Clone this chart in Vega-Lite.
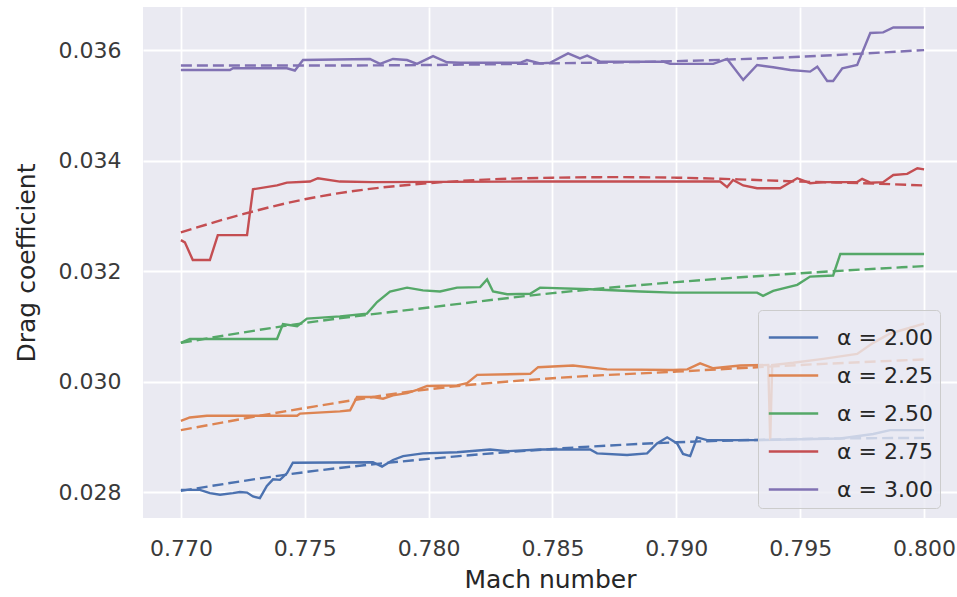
{
  "$schema": "https://vega.github.io/schema/vega-lite/v6.json",
  "width": 814,
  "height": 511,
  "autosize": {"type": "none"},
  "padding": {"left": 143, "top": 7, "right": 0, "bottom": 79},
  "background": "white",
  "config": {
    "view": {"fill": "#EAEAF2", "stroke": null},
    "font": "DejaVu Sans",
    "axis": {
      "domain": false, "ticks": false, "grid": true, "gridColor": "white", "gridWidth": 1.8,
      "labelFont": "DejaVu Sans", "labelFontSize": 22, "labelColor": "#3a3a3a",
      "titleFont": "DejaVu Sans", "titleFontSize": 25, "titleColor": "#262626", "titleFontWeight": "normal"
    }
  },
  "data": {"values": [
    {"alpha":"α = 2.00","kind":"sim","mach":0.77000,"cd":0.02804},
    {"alpha":"α = 2.00","kind":"sim","mach":0.77077,"cd":0.02804},
    {"alpha":"α = 2.00","kind":"sim","mach":0.77117,"cd":0.02798},
    {"alpha":"α = 2.00","kind":"sim","mach":0.77158,"cd":0.02795},
    {"alpha":"α = 2.00","kind":"sim","mach":0.77210,"cd":0.02798},
    {"alpha":"α = 2.00","kind":"sim","mach":0.77238,"cd":0.02800},
    {"alpha":"α = 2.00","kind":"sim","mach":0.77267,"cd":0.02799},
    {"alpha":"α = 2.00","kind":"sim","mach":0.77291,"cd":0.02792},
    {"alpha":"α = 2.00","kind":"sim","mach":0.77319,"cd":0.02789},
    {"alpha":"α = 2.00","kind":"sim","mach":0.77347,"cd":0.02811},
    {"alpha":"α = 2.00","kind":"sim","mach":0.77372,"cd":0.02823},
    {"alpha":"α = 2.00","kind":"sim","mach":0.77400,"cd":0.02822},
    {"alpha":"α = 2.00","kind":"sim","mach":0.77428,"cd":0.02834},
    {"alpha":"α = 2.00","kind":"sim","mach":0.77452,"cd":0.02853},
    {"alpha":"α = 2.00","kind":"sim","mach":0.77775,"cd":0.02854},
    {"alpha":"α = 2.00","kind":"sim","mach":0.77812,"cd":0.02846},
    {"alpha":"α = 2.00","kind":"sim","mach":0.77856,"cd":0.02858},
    {"alpha":"α = 2.00","kind":"sim","mach":0.77897,"cd":0.02865},
    {"alpha":"α = 2.00","kind":"sim","mach":0.77977,"cd":0.02870},
    {"alpha":"α = 2.00","kind":"sim","mach":0.78115,"cd":0.02872},
    {"alpha":"α = 2.00","kind":"sim","mach":0.78248,"cd":0.02877},
    {"alpha":"α = 2.00","kind":"sim","mach":0.78317,"cd":0.02874},
    {"alpha":"α = 2.00","kind":"sim","mach":0.78450,"cd":0.02877},
    {"alpha":"α = 2.00","kind":"sim","mach":0.78652,"cd":0.02877},
    {"alpha":"α = 2.00","kind":"sim","mach":0.78680,"cd":0.02870},
    {"alpha":"α = 2.00","kind":"sim","mach":0.78801,"cd":0.02867},
    {"alpha":"α = 2.00","kind":"sim","mach":0.78882,"cd":0.02870},
    {"alpha":"α = 2.00","kind":"sim","mach":0.78922,"cd":0.02888},
    {"alpha":"α = 2.00","kind":"sim","mach":0.78963,"cd":0.02899},
    {"alpha":"α = 2.00","kind":"sim","mach":0.79003,"cd":0.02888},
    {"alpha":"α = 2.00","kind":"sim","mach":0.79027,"cd":0.02869},
    {"alpha":"α = 2.00","kind":"sim","mach":0.79056,"cd":0.02865},
    {"alpha":"α = 2.00","kind":"sim","mach":0.79084,"cd":0.02899},
    {"alpha":"α = 2.00","kind":"sim","mach":0.79124,"cd":0.02894},
    {"alpha":"α = 2.00","kind":"sim","mach":0.79326,"cd":0.02894},
    {"alpha":"α = 2.00","kind":"sim","mach":0.79662,"cd":0.02897},
    {"alpha":"α = 2.00","kind":"sim","mach":0.79795,"cd":0.02905},
    {"alpha":"α = 2.00","kind":"sim","mach":0.79863,"cd":0.02912},
    {"alpha":"α = 2.00","kind":"sim","mach":0.80000,"cd":0.02912},

    {"alpha":"α = 2.25","kind":"sim","mach":0.77000,"cd":0.02929},
    {"alpha":"α = 2.25","kind":"sim","mach":0.77036,"cd":0.02935},
    {"alpha":"α = 2.25","kind":"sim","mach":0.77105,"cd":0.02938},
    {"alpha":"α = 2.25","kind":"sim","mach":0.77469,"cd":0.02938},
    {"alpha":"α = 2.25","kind":"sim","mach":0.77481,"cd":0.02942},
    {"alpha":"α = 2.25","kind":"sim","mach":0.77642,"cd":0.02946},
    {"alpha":"α = 2.25","kind":"sim","mach":0.77683,"cd":0.02948},
    {"alpha":"α = 2.25","kind":"sim","mach":0.77711,"cd":0.02972},
    {"alpha":"α = 2.25","kind":"sim","mach":0.77775,"cd":0.02972},
    {"alpha":"α = 2.25","kind":"sim","mach":0.77816,"cd":0.02969},
    {"alpha":"α = 2.25","kind":"sim","mach":0.77856,"cd":0.02975},
    {"alpha":"α = 2.25","kind":"sim","mach":0.77913,"cd":0.02979},
    {"alpha":"α = 2.25","kind":"sim","mach":0.77953,"cd":0.02985},
    {"alpha":"α = 2.25","kind":"sim","mach":0.77994,"cd":0.02992},
    {"alpha":"α = 2.25","kind":"sim","mach":0.78115,"cd":0.02993},
    {"alpha":"α = 2.25","kind":"sim","mach":0.78155,"cd":0.02997},
    {"alpha":"α = 2.25","kind":"sim","mach":0.78196,"cd":0.03012},
    {"alpha":"α = 2.25","kind":"sim","mach":0.78410,"cd":0.03014},
    {"alpha":"α = 2.25","kind":"sim","mach":0.78442,"cd":0.03026},
    {"alpha":"α = 2.25","kind":"sim","mach":0.78583,"cd":0.03029},
    {"alpha":"α = 2.25","kind":"sim","mach":0.78720,"cd":0.03022},
    {"alpha":"α = 2.25","kind":"sim","mach":0.78987,"cd":0.03021},
    {"alpha":"α = 2.25","kind":"sim","mach":0.79044,"cd":0.03022},
    {"alpha":"α = 2.25","kind":"sim","mach":0.79096,"cd":0.03033},
    {"alpha":"α = 2.25","kind":"sim","mach":0.79149,"cd":0.03024},
    {"alpha":"α = 2.25","kind":"sim","mach":0.79258,"cd":0.03029},
    {"alpha":"α = 2.25","kind":"sim","mach":0.79371,"cd":0.03030},
    {"alpha":"α = 2.25","kind":"sim","mach":0.79379,"cd":0.02894},
    {"alpha":"α = 2.25","kind":"sim","mach":0.79387,"cd":0.03030},
    {"alpha":"α = 2.25","kind":"sim","mach":0.79472,"cd":0.03034},
    {"alpha":"α = 2.25","kind":"sim","mach":0.79593,"cd":0.03041},
    {"alpha":"α = 2.25","kind":"sim","mach":0.79730,"cd":0.03050},
    {"alpha":"α = 2.25","kind":"sim","mach":0.79795,"cd":0.03070},
    {"alpha":"α = 2.25","kind":"sim","mach":0.79863,"cd":0.03087},
    {"alpha":"α = 2.25","kind":"sim","mach":0.80000,"cd":0.03105},

    {"alpha":"α = 2.50","kind":"sim","mach":0.77000,"cd":0.03070},
    {"alpha":"α = 2.50","kind":"sim","mach":0.77036,"cd":0.03077},
    {"alpha":"α = 2.50","kind":"sim","mach":0.77388,"cd":0.03077},
    {"alpha":"α = 2.50","kind":"sim","mach":0.77412,"cd":0.03104},
    {"alpha":"α = 2.50","kind":"sim","mach":0.77469,"cd":0.03100},
    {"alpha":"α = 2.50","kind":"sim","mach":0.77509,"cd":0.03114},
    {"alpha":"α = 2.50","kind":"sim","mach":0.77642,"cd":0.03118},
    {"alpha":"α = 2.50","kind":"sim","mach":0.77751,"cd":0.03123},
    {"alpha":"α = 2.50","kind":"sim","mach":0.77792,"cd":0.03144},
    {"alpha":"α = 2.50","kind":"sim","mach":0.77844,"cd":0.03163},
    {"alpha":"α = 2.50","kind":"sim","mach":0.77913,"cd":0.03170},
    {"alpha":"α = 2.50","kind":"sim","mach":0.77977,"cd":0.03165},
    {"alpha":"α = 2.50","kind":"sim","mach":0.78046,"cd":0.03163},
    {"alpha":"α = 2.50","kind":"sim","mach":0.78115,"cd":0.03170},
    {"alpha":"α = 2.50","kind":"sim","mach":0.78208,"cd":0.03171},
    {"alpha":"α = 2.50","kind":"sim","mach":0.78236,"cd":0.03185},
    {"alpha":"α = 2.50","kind":"sim","mach":0.78260,"cd":0.03163},
    {"alpha":"α = 2.50","kind":"sim","mach":0.78317,"cd":0.03158},
    {"alpha":"α = 2.50","kind":"sim","mach":0.78410,"cd":0.03159},
    {"alpha":"α = 2.50","kind":"sim","mach":0.78450,"cd":0.03170},
    {"alpha":"α = 2.50","kind":"sim","mach":0.78652,"cd":0.03167},
    {"alpha":"α = 2.50","kind":"sim","mach":0.78854,"cd":0.03163},
    {"alpha":"α = 2.50","kind":"sim","mach":0.78987,"cd":0.03161},
    {"alpha":"α = 2.50","kind":"sim","mach":0.79326,"cd":0.03161},
    {"alpha":"α = 2.50","kind":"sim","mach":0.79350,"cd":0.03155},
    {"alpha":"α = 2.50","kind":"sim","mach":0.79391,"cd":0.03164},
    {"alpha":"α = 2.50","kind":"sim","mach":0.79488,"cd":0.03175},
    {"alpha":"α = 2.50","kind":"sim","mach":0.79540,"cd":0.03190},
    {"alpha":"α = 2.50","kind":"sim","mach":0.79633,"cd":0.03192},
    {"alpha":"α = 2.50","kind":"sim","mach":0.79662,"cd":0.03231},
    {"alpha":"α = 2.50","kind":"sim","mach":0.80000,"cd":0.03231},

    {"alpha":"α = 2.75","kind":"sim","mach":0.77000,"cd":0.03256},
    {"alpha":"α = 2.75","kind":"sim","mach":0.77016,"cd":0.03252},
    {"alpha":"α = 2.75","kind":"sim","mach":0.77048,"cd":0.03220},
    {"alpha":"α = 2.75","kind":"sim","mach":0.77117,"cd":0.03220},
    {"alpha":"α = 2.75","kind":"sim","mach":0.77149,"cd":0.03265},
    {"alpha":"α = 2.75","kind":"sim","mach":0.77267,"cd":0.03265},
    {"alpha":"α = 2.75","kind":"sim","mach":0.77291,"cd":0.03348},
    {"alpha":"α = 2.75","kind":"sim","mach":0.77388,"cd":0.03355},
    {"alpha":"α = 2.75","kind":"sim","mach":0.77428,"cd":0.03360},
    {"alpha":"α = 2.75","kind":"sim","mach":0.77521,"cd":0.03362},
    {"alpha":"α = 2.75","kind":"sim","mach":0.77553,"cd":0.03368},
    {"alpha":"α = 2.75","kind":"sim","mach":0.77642,"cd":0.03362},
    {"alpha":"α = 2.75","kind":"sim","mach":0.77775,"cd":0.03361},
    {"alpha":"α = 2.75","kind":"sim","mach":0.78450,"cd":0.03362},
    {"alpha":"α = 2.75","kind":"sim","mach":0.79177,"cd":0.03362},
    {"alpha":"α = 2.75","kind":"sim","mach":0.79205,"cd":0.03352},
    {"alpha":"α = 2.75","kind":"sim","mach":0.79229,"cd":0.03365},
    {"alpha":"α = 2.75","kind":"sim","mach":0.79270,"cd":0.03355},
    {"alpha":"α = 2.75","kind":"sim","mach":0.79326,"cd":0.03350},
    {"alpha":"α = 2.75","kind":"sim","mach":0.79419,"cd":0.03350},
    {"alpha":"α = 2.75","kind":"sim","mach":0.79488,"cd":0.03368},
    {"alpha":"α = 2.75","kind":"sim","mach":0.79540,"cd":0.03359},
    {"alpha":"α = 2.75","kind":"sim","mach":0.79593,"cd":0.03361},
    {"alpha":"α = 2.75","kind":"sim","mach":0.79730,"cd":0.03361},
    {"alpha":"α = 2.75","kind":"sim","mach":0.79750,"cd":0.03367},
    {"alpha":"α = 2.75","kind":"sim","mach":0.79783,"cd":0.03360},
    {"alpha":"α = 2.75","kind":"sim","mach":0.79835,"cd":0.03361},
    {"alpha":"α = 2.75","kind":"sim","mach":0.79876,"cd":0.03374},
    {"alpha":"α = 2.75","kind":"sim","mach":0.79932,"cd":0.03376},
    {"alpha":"α = 2.75","kind":"sim","mach":0.79973,"cd":0.03386},
    {"alpha":"α = 2.75","kind":"sim","mach":0.80000,"cd":0.03384},

    {"alpha":"α = 3.00","kind":"sim","mach":0.77000,"cd":0.03564},
    {"alpha":"α = 3.00","kind":"sim","mach":0.77198,"cd":0.03564},
    {"alpha":"α = 3.00","kind":"sim","mach":0.77210,"cd":0.03567},
    {"alpha":"α = 3.00","kind":"sim","mach":0.77428,"cd":0.03567},
    {"alpha":"α = 3.00","kind":"sim","mach":0.77460,"cd":0.03563},
    {"alpha":"α = 3.00","kind":"sim","mach":0.77493,"cd":0.03582},
    {"alpha":"α = 3.00","kind":"sim","mach":0.77763,"cd":0.03584},
    {"alpha":"α = 3.00","kind":"sim","mach":0.77804,"cd":0.03575},
    {"alpha":"α = 3.00","kind":"sim","mach":0.77856,"cd":0.03584},
    {"alpha":"α = 3.00","kind":"sim","mach":0.77913,"cd":0.03582},
    {"alpha":"α = 3.00","kind":"sim","mach":0.77953,"cd":0.03575},
    {"alpha":"α = 3.00","kind":"sim","mach":0.78018,"cd":0.03589},
    {"alpha":"α = 3.00","kind":"sim","mach":0.78074,"cd":0.03578},
    {"alpha":"α = 3.00","kind":"sim","mach":0.78127,"cd":0.03577},
    {"alpha":"α = 3.00","kind":"sim","mach":0.78369,"cd":0.03577},
    {"alpha":"α = 3.00","kind":"sim","mach":0.78397,"cd":0.03582},
    {"alpha":"α = 3.00","kind":"sim","mach":0.78450,"cd":0.03576},
    {"alpha":"α = 3.00","kind":"sim","mach":0.78490,"cd":0.03577},
    {"alpha":"α = 3.00","kind":"sim","mach":0.78563,"cd":0.03594},
    {"alpha":"α = 3.00","kind":"sim","mach":0.78611,"cd":0.03585},
    {"alpha":"α = 3.00","kind":"sim","mach":0.78640,"cd":0.03590},
    {"alpha":"α = 3.00","kind":"sim","mach":0.78692,"cd":0.03579},
    {"alpha":"α = 3.00","kind":"sim","mach":0.78947,"cd":0.03579},
    {"alpha":"α = 3.00","kind":"sim","mach":0.78975,"cd":0.03575},
    {"alpha":"α = 3.00","kind":"sim","mach":0.79149,"cd":0.03575},
    {"alpha":"α = 3.00","kind":"sim","mach":0.79205,"cd":0.03584},
    {"alpha":"α = 3.00","kind":"sim","mach":0.79270,"cd":0.03546},
    {"alpha":"α = 3.00","kind":"sim","mach":0.79326,"cd":0.03573},
    {"alpha":"α = 3.00","kind":"sim","mach":0.79391,"cd":0.03569},
    {"alpha":"α = 3.00","kind":"sim","mach":0.79460,"cd":0.03564},
    {"alpha":"α = 3.00","kind":"sim","mach":0.79540,"cd":0.03561},
    {"alpha":"α = 3.00","kind":"sim","mach":0.79569,"cd":0.03570},
    {"alpha":"α = 3.00","kind":"sim","mach":0.79609,"cd":0.03544},
    {"alpha":"α = 3.00","kind":"sim","mach":0.79633,"cd":0.03544},
    {"alpha":"α = 3.00","kind":"sim","mach":0.79670,"cd":0.03567},
    {"alpha":"α = 3.00","kind":"sim","mach":0.79730,"cd":0.03573},
    {"alpha":"α = 3.00","kind":"sim","mach":0.79783,"cd":0.03631},
    {"alpha":"α = 3.00","kind":"sim","mach":0.79835,"cd":0.03632},
    {"alpha":"α = 3.00","kind":"sim","mach":0.79876,"cd":0.03641},
    {"alpha":"α = 3.00","kind":"sim","mach":0.80000,"cd":0.03641},

    {"alpha":"α = 2.00","kind":"fit","mach":0.770,"cd":0.02802},
    {"alpha":"α = 2.00","kind":"fit","mach":0.775,"cd":0.02836},
    {"alpha":"α = 2.00","kind":"fit","mach":0.780,"cd":0.02860},
    {"alpha":"α = 2.00","kind":"fit","mach":0.785,"cd":0.02878},
    {"alpha":"α = 2.00","kind":"fit","mach":0.790,"cd":0.02890},
    {"alpha":"α = 2.00","kind":"fit","mach":0.795,"cd":0.02896},
    {"alpha":"α = 2.00","kind":"fit","mach":0.800,"cd":0.02898},

    {"alpha":"α = 2.25","kind":"fit","mach":0.770,"cd":0.02912},
    {"alpha":"α = 2.25","kind":"fit","mach":0.775,"cd":0.02952},
    {"alpha":"α = 2.25","kind":"fit","mach":0.780,"cd":0.02986},
    {"alpha":"α = 2.25","kind":"fit","mach":0.785,"cd":0.03006},
    {"alpha":"α = 2.25","kind":"fit","mach":0.790,"cd":0.03018},
    {"alpha":"α = 2.25","kind":"fit","mach":0.795,"cd":0.03030},
    {"alpha":"α = 2.25","kind":"fit","mach":0.800,"cd":0.03040},

    {"alpha":"α = 2.50","kind":"fit","mach":0.770,"cd":0.03070},
    {"alpha":"α = 2.50","kind":"fit","mach":0.775,"cd":0.03106},
    {"alpha":"α = 2.50","kind":"fit","mach":0.780,"cd":0.03134},
    {"alpha":"α = 2.50","kind":"fit","mach":0.785,"cd":0.03160},
    {"alpha":"α = 2.50","kind":"fit","mach":0.790,"cd":0.03180},
    {"alpha":"α = 2.50","kind":"fit","mach":0.795,"cd":0.03196},
    {"alpha":"α = 2.50","kind":"fit","mach":0.800,"cd":0.03209},

    {"alpha":"α = 2.75","kind":"fit","mach":0.770,"cd":0.03270},
    {"alpha":"α = 2.75","kind":"fit","mach":0.7725,"cd":0.03303},
    {"alpha":"α = 2.75","kind":"fit","mach":0.775,"cd":0.03330},
    {"alpha":"α = 2.75","kind":"fit","mach":0.7775,"cd":0.03348},
    {"alpha":"α = 2.75","kind":"fit","mach":0.780,"cd":0.03359},
    {"alpha":"α = 2.75","kind":"fit","mach":0.7825,"cd":0.03366},
    {"alpha":"α = 2.75","kind":"fit","mach":0.785,"cd":0.03369},
    {"alpha":"α = 2.75","kind":"fit","mach":0.7875,"cd":0.03370},
    {"alpha":"α = 2.75","kind":"fit","mach":0.790,"cd":0.03369},
    {"alpha":"α = 2.75","kind":"fit","mach":0.7925,"cd":0.03366},
    {"alpha":"α = 2.75","kind":"fit","mach":0.795,"cd":0.03362},
    {"alpha":"α = 2.75","kind":"fit","mach":0.7975,"cd":0.03359},
    {"alpha":"α = 2.75","kind":"fit","mach":0.800,"cd":0.03355},

    {"alpha":"α = 3.00","kind":"fit","mach":0.770,"cd":0.03572},
    {"alpha":"α = 3.00","kind":"fit","mach":0.775,"cd":0.03572},
    {"alpha":"α = 3.00","kind":"fit","mach":0.780,"cd":0.03573},
    {"alpha":"α = 3.00","kind":"fit","mach":0.785,"cd":0.03576},
    {"alpha":"α = 3.00","kind":"fit","mach":0.790,"cd":0.03580},
    {"alpha":"α = 3.00","kind":"fit","mach":0.795,"cd":0.03588},
    {"alpha":"α = 3.00","kind":"fit","mach":0.800,"cd":0.03600}
  ]},
  "encoding": {
    "x": {
      "field": "mach", "type": "quantitative",
      "scale": {"domain": [0.76847, 0.80133], "nice": false, "zero": false},
      "axis": {"title": "Mach number", "values": [0.770, 0.775, 0.780, 0.785, 0.790, 0.795, 0.800], "format": ".3f", "labelPadding": 20, "titlePadding": 8, "labelFlush": false}
    },
    "y": {
      "field": "cd", "type": "quantitative",
      "scale": {"domain": [0.02753, 0.03678], "nice": false, "zero": false},
      "axis": {"title": "Drag coefficient", "values": [0.028, 0.030, 0.032, 0.034, 0.036], "format": ".3f", "labelPadding": 22, "titlePadding": 19, "labelFlush": false}
    },
    "color": {
      "field": "alpha", "type": "nominal",
      "scale": {"domain": ["α = 2.00", "α = 2.25", "α = 2.50", "α = 2.75", "α = 3.00"], "range": ["#4C72B0", "#DD8452", "#55A868", "#C44E52", "#8172B3"]},
      "legend": {
        "title": null, "orient": "none", "legendX": 615, "legendY": 303,
        "symbolType": "M-1.3,0L1.3,0", "symbolSize": 1444, "symbolStrokeWidth": 2.5, "symbolOffset": 8,
        "labelFontSize": 22, "labelFont": "DejaVu Sans", "labelColor": "#262626", "labelOffset": 23,
        "padding": 7, "rowPadding": 6,
        "fillColor": "rgba(234,234,242,0.8)", "strokeColor": "#cccccc", "cornerRadius": 4
      }
    }
  },
  "layer": [
    {
      "transform": [{"filter": "datum.kind === 'sim'"}],
      "mark": {"type": "line", "strokeWidth": 2.4}
    },
    {
      "transform": [{"filter": "datum.kind === 'fit'"}],
      "mark": {"type": "line", "strokeWidth": 2.4, "strokeDash": [11, 5], "interpolate": "monotone"}
    }
  ]
}
